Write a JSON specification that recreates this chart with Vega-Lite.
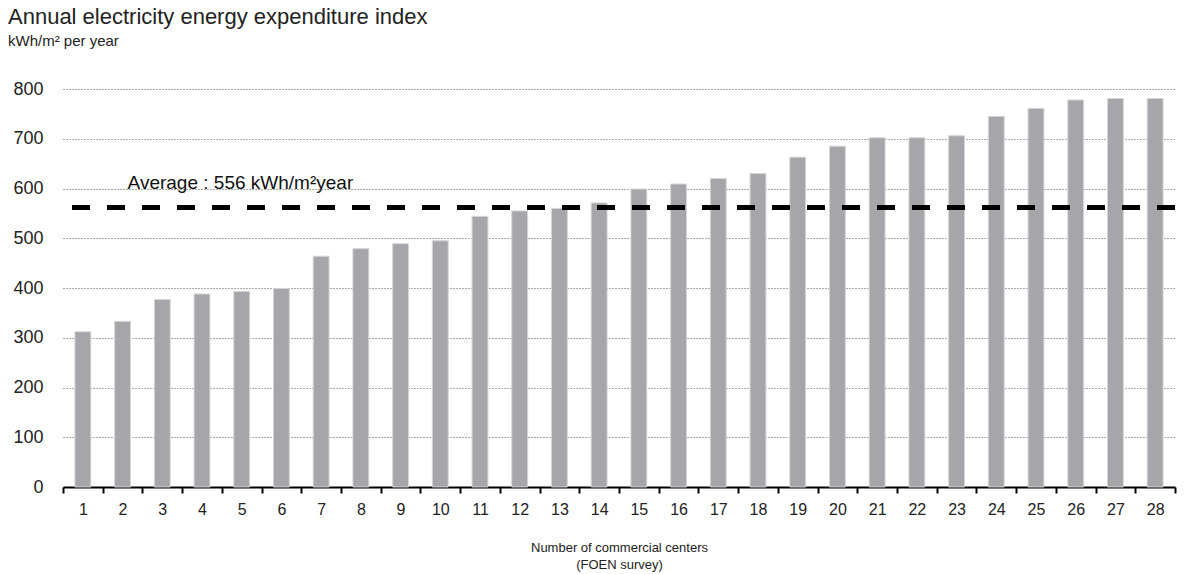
{
  "$schema": "https://vega.github.io/schema/vega-lite/v6.json",
  "width": 1112,
  "height": 398,
  "autosize": {"type": "none"},
  "padding": {"left": 63, "top": 89, "right": 14, "bottom": 87},
  "background": "white",
  "title": {
    "text": "Annual electricity energy expenditure index",
    "subtitle": "kWh/m² per year",
    "anchor": "start",
    "frame": "group",
    "dx": -55,
    "offset": 30,
    "font": "Liberation Sans",
    "fontSize": 22,
    "fontWeight": "normal",
    "color": "#222222",
    "subtitleFont": "Liberation Sans",
    "subtitleFontSize": 15,
    "subtitleColor": "#222222",
    "subtitlePadding": 5
  },
  "config": {"view": {"stroke": null}, "font": "Liberation Sans"},
  "data": {
    "values": [
      {"center": 1, "kwh": 312}, {"center": 2, "kwh": 333}, {"center": 3, "kwh": 377},
      {"center": 4, "kwh": 388}, {"center": 5, "kwh": 393}, {"center": 6, "kwh": 399},
      {"center": 7, "kwh": 464}, {"center": 8, "kwh": 479}, {"center": 9, "kwh": 489},
      {"center": 10, "kwh": 495}, {"center": 11, "kwh": 544}, {"center": 12, "kwh": 555},
      {"center": 13, "kwh": 560}, {"center": 14, "kwh": 571}, {"center": 15, "kwh": 599},
      {"center": 16, "kwh": 609}, {"center": 17, "kwh": 620}, {"center": 18, "kwh": 630},
      {"center": 19, "kwh": 663}, {"center": 20, "kwh": 685}, {"center": 21, "kwh": 702},
      {"center": 22, "kwh": 702}, {"center": 23, "kwh": 706}, {"center": 24, "kwh": 745},
      {"center": 25, "kwh": 761}, {"center": 26, "kwh": 778}, {"center": 27, "kwh": 781},
      {"center": 28, "kwh": 781}
    ]
  },
  "layer": [
    {
      "mark": {"type": "bar", "width": {"band": 0.4}, "color": "#a6a6aa", "stroke": "#d6d6d8", "strokeWidth": 1},
      "encoding": {
        "x": {
          "field": "center",
          "type": "ordinal",
          "sort": null,
          "scale": {"paddingInner": 0, "paddingOuter": 0},
          "axis": {
            "title": ["Number of commercial centers", "(FOEN survey)"],
            "titleFont": "Liberation Sans",
            "titleFontSize": 13,
            "titleFontWeight": "normal",
            "titleColor": "#222222",
            "titlePadding": 24,
            "titleLineHeight": 17,
            "labelAngle": 0,
            "labelFontSize": 16,
            "labelPadding": 8,
            "labelColor": "#222222",
            "tickBand": "extent",
            "tickColor": "black",
            "tickSize": 6,
            "tickWidth": 2,
            "domainColor": "black",
            "domainWidth": 2,
            "grid": false
          }
        },
        "y": {
          "field": "kwh",
          "type": "quantitative",
          "scale": {"domain": [0, 800]},
          "axis": {
            "title": null,
            "values": [0, 100, 200, 300, 400, 500, 600, 700, 800],
            "domain": false,
            "ticks": false,
            "labelFontSize": 18,
            "labelPadding": 20,
            "labelColor": "#222222",
            "gridColor": "#555555",
            "gridDash": [1, 2],
            "gridWidth": 1
          }
        }
      }
    },
    {
      "data": {"values": [{"avg": 562}]},
      "mark": {"type": "rule", "color": "black", "strokeWidth": 5, "strokeDash": [18, 17]},
      "encoding": {"y": {"field": "avg", "type": "quantitative"}}
    },
    {
      "data": {"values": [{"label": "Average : 556 kWh/m²year", "pos": 2, "yv": 600}]},
      "mark": {"type": "text", "align": "left", "baseline": "alphabetic", "fontSize": 19, "color": "#111111", "font": "Liberation Sans", "dx": 5},
      "encoding": {
        "x": {"field": "pos", "type": "ordinal"},
        "y": {"field": "yv", "type": "quantitative"},
        "text": {"field": "label"}
      }
    }
  ]
}
